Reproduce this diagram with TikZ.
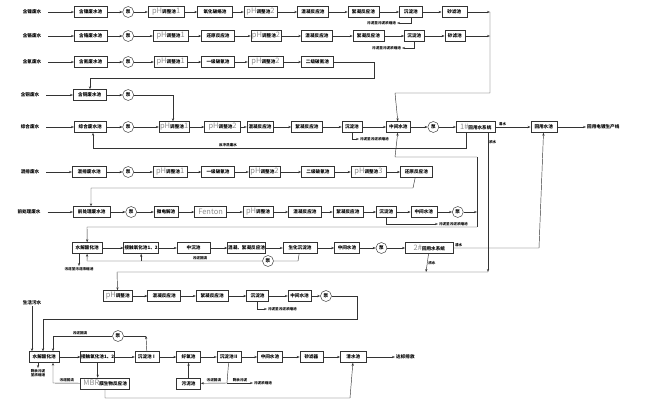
\documentclass[tikz,border=0pt]{standalone}
\usepackage{fontspec}
\setmainfont{Noto Sans CJK SC}
\usetikzlibrary{positioning,arrows.meta}

\newcommand\gr[1]{{\color{black!45}\fontsize{7.5}{7.5}\selectfont\mdseries #1}}

\tikzset{
  box/.style={draw=black!80, line width=.45pt, minimum height=11pt, inner sep=0pt, font=\fontsize{4.6}{5}\selectfont\bfseries},
  pump/.style={circle, draw=black!80, line width=.45pt, minimum size=11pt, inner sep=0pt, fill=white, font=\fontsize{4.6}{5}\selectfont\bfseries},
  flow/.style={draw=black!80, line width=.45pt, -{Stealth[length=3pt,width=2.2pt]}},
  pipe/.style={draw=black!80, line width=.45pt},
  src/.style={font=\fontsize{4.6}{5}\selectfont\bfseries, inner sep=1pt},
  note/.style={font=\fontsize{3.6}{4}\selectfont\bfseries, inner sep=.8pt, align=center},
}

\begin{document}
\begin{tikzpicture}[x=1pt, y=-1pt]
\useasboundingbox (0,0) rectangle (650,415);

% nickel
\node[src] (s1) at (32,12) {含镍废水};
\node[box, minimum width=33pt, anchor=west] (a1) at (74,12) {含镍废水池};
\node[pump, right=15pt of a1] (p1) {泵};
\node[box, minimum width=36pt, right=14pt of p1] (b1) {\gr{pH}调整池\gr{1}};
\node[box, minimum width=35pt, right=13pt of b1] (c1) {氧化破络池};
\node[box, minimum width=33pt, right=11pt of c1] (d1) {\gr{pH}调整池\gr{2}};
\node[box, minimum width=31pt, right=20pt of d1] (e1) {混凝反应池};
\node[box, minimum width=31pt, right=19pt of e1] (f1) {絮凝反应池};
\node[box, minimum width=23pt, right=20pt of f1] (g1) {沉淀池};
\node[box, minimum width=25pt, right=19pt of g1] (h1) {砂滤池};
\coordinate (k1) at (490,12);
\coordinate (m1) at (397,23);
\node[note, left=0pt of m1] (n1) {污泥至污泥浓缩池};

% chromium
\node[src] (s2) at (32,36) {含铬废水};
\node[box, minimum width=33pt, anchor=west] (a2) at (74,36) {含铬废水池};
\node[pump, right=15pt of a2] (p2) {泵};
\node[box, minimum width=35pt, right=19pt of p2] (b2) {\gr{pH}调整池\gr{1}};
\node[box, minimum width=33pt, right=13pt of b2] (c2) {还原反应池};
\node[box, minimum width=30pt, right=16pt of c2] (d2) {\gr{pH}调整池\gr{2}};
\node[box, minimum width=31pt, right=20pt of d2] (e2) {混凝反应池};
\node[box, minimum width=31pt, right=20pt of e2] (f2) {絮凝反应池};
\node[box, minimum width=20pt, right=20pt of f2] (g2) {沉淀池};
\node[box, minimum width=20pt, right=20pt of g2] (h2) {砂滤池};
\coordinate (m2) at (402,48);
\node[note, left=0pt of m2] (n2) {污泥至污泥浓缩池};

% cyanide
\node[src] (s3) at (32,62) {含氰废水};
\node[box, minimum width=33pt, anchor=west] (a3) at (74,62) {含氰废水池};
\node[pump, right=15pt of a3] (p3) {泵};
\node[box, minimum width=33pt, right=20pt of p3] (b3) {\gr{pH}调整池\gr{1}};
\node[box, minimum width=33pt, right=14pt of b3] (c3) {一级破氰池};
\node[box, minimum width=35pt, right=13pt of c3] (d3) {\gr{pH}调整池\gr{2}};
\node[box, minimum width=32pt, right=18pt of d3] (e3) {二级破氰池};
\coordinate (k4) at (374,62);
\coordinate (k5) at (374,78);
\coordinate (k6) at (90,78);

% copper
\node[src] (s4) at (30,95) {含铜废水};
\node[box, minimum width=33pt, anchor=west] (a4) at (73,95) {含铜废水池};
\node[pump, right=16pt of a4] (p4) {泵};
\coordinate (k7) at (173,95);

% general
\node[src] (s5) at (30,127) {综合废水};
\node[box, minimum width=32pt, anchor=west] (a5) at (74,127) {综合废水池};
\node[pump, right=16pt of a5] (p5) {泵};
\node[box, minimum width=30pt, right=25pt of p5] (b5) {\gr{pH}调整池\gr{1}};
\node[box, minimum width=36pt, right=15pt of b5] (c5) {\gr{pH}调整池\gr{2}};
\node[box, minimum width=26pt, right=6pt of c5] (d5) {混凝反应池};
\node[box, minimum width=31pt, right=18pt of d5] (e5) {絮凝反应池};
\node[box, minimum width=20pt, right=19pt of e5] (f5) {沉淀池};
\node[box, minimum width=24pt, right=24pt of f5] (g5) {中间水池};
\node[pump, right=17pt of g5] (pp5) {泵};
\node[box, minimum width=39pt, right=17pt of pp5] (h5) {\gr{1\#}回用水系统};
\node[box, minimum width=26pt, right=35pt of h5] (i5) {回用水池};
\node[src, anchor=west] (t5) at (586,127) {回用电镀生产线};
\coordinate (k2) at (490,93);
\coordinate (k3) at (395,93);
\coordinate (m5) at (359,139);
\node[note, right=0pt of m5] (n5) {污泥至污泥浓缩池};
\coordinate (k8) at (466,148);
\coordinate (k9) at (93,148);
\node[note, above] (n5b) at (228,148) {反冲洗废水};
\coordinate (r1) at (488,272);

% mixed
\node[src] (s6) at (30,172) {混排废水};
\node[box, minimum width=34pt, anchor=west] (a6) at (72,172) {混排废水池};
\node[pump, right=16pt of a6] (p6) {泵};
\node[box, minimum width=34pt, right=19pt of p6] (b6) {\gr{pH}调整池\gr{1}};
\node[box, minimum width=33pt, right=14pt of b6] (c6) {一级破氰池};
\node[box, minimum width=31pt, right=14pt of c6] (d6) {\gr{pH}调整池\gr{2}};
\node[box, minimum width=33pt, right=21pt of d6] (e6) {二级破氰池};
\node[box, minimum width=35pt, right=16pt of e6] (f6) {\gr{pH}调整池\gr{3}};
\node[box, minimum width=32pt, right=14pt of f6] (g6) {还原反应池};
\coordinate (k10) at (413,188);
\coordinate (k11) at (91,188);

% pretreatment
\node[src] (s7) at (29,212) {前处理废水};
\node[box, minimum width=37pt, anchor=west] (a7) at (73,212) {前处理废水池};
\node[pump, right=15pt of a7] (p7) {泵};
\node[box, minimum width=24pt, right=17pt of p7] (b7) {微电解池};
\node[box, minimum width=32pt, right=16pt of b7] (c7) {\gr{Fenton}};
\node[box, minimum width=30pt, right=16pt of c7] (d7) {\gr{pH}调整池};
\node[box, minimum width=33pt, right=15pt of d7] (e7) {混凝反应池};
\node[box, minimum width=30pt, right=11pt of e7] (f7) {絮凝反应池};
\node[box, minimum width=20pt, right=13pt of f7] (g7) {沉淀池};
\node[box, minimum width=26pt, right=14pt of g7] (h7) {中间水池};
\node[pump, right=15pt of h7] (pp7) {泵};
\coordinate (j1) at (477,157);
\coordinate (j2) at (477,227);
\coordinate (j3) at (395,157);
\coordinate (j4) at (87,227);
\coordinate (m7) at (438,224);
\node[note, right=0pt of m7] (n7) {污泥至污泥浓缩池};

% biological 1
\node[box, minimum width=30pt, anchor=west] (a8) at (72,248) {水解酸化池};
\node[box, minimum width=35pt, right=21pt of a8] (b8) {接触氧化池1、2};
\node[box, minimum width=33pt, right=18pt of b8] (c8) {中沉池};
\node[box, minimum width=38pt, right=17pt of c8] (d8) {混凝、絮凝反应池};
\node[box, minimum width=34pt, right=17pt of d8] (e8) {生化沉淀池};
\node[box, minimum width=25pt, right=17pt of e8] (f8) {中间水池};
\node[pump, right=16pt of f8] (pp8) {泵};
\node[box, minimum width=48pt, right=18pt of pp8] (g8) {\gr{2\#}回用水系统};
\node[pump] (pp8b) at (268,261) {泵};
\coordinate (q1) at (298,261);
\coordinate (q2) at (87,261);
\node[note, above] (n8) at (200,261) {污泥回流};
\coordinate (m8) at (79,266);
\node[note, below=0pt of m8] (n8b) {污泥至污泥浓缩池};
\coordinate (r2) at (426,272);
\coordinate (r3) at (117,272);
\coordinate (r4) at (539,248);

% concentrate
\node[box, minimum width=29pt, anchor=west] (a9) at (103,296) {\gr{pH}调整池};
\node[box, minimum width=33pt, right=15pt of a9] (b9) {混凝反应池};
\node[box, minimum width=32pt, right=15pt of b9] (c9) {絮凝反应池};
\node[box, minimum width=22pt, right=18pt of c9] (d9) {沉淀池};
\node[box, minimum width=23pt, right=19pt of d9] (e9) {中间水池};
\node[pump, right=9pt of e9] (pp9) {泵};
\coordinate (u1) at (357,296);
\coordinate (u2) at (357,319);
\coordinate (u3) at (43,319);
\coordinate (m9) at (267,309);
\node[note, right=0pt of m9] (n9) {污泥至污泥浓缩池};

% domestic
\node[src] (s10) at (32,303) {生活污水};
\node[box, minimum width=30pt, anchor=west] (a10) at (29,357) {水解酸化池};
\node[box, minimum width=34pt, right=21pt of a10] (b10) {接触氧化池1、2};
\node[box, minimum width=24pt, right=20pt of b10] (c10) {沉淀池Ⅰ};
\node[box, minimum width=24pt, right=17pt of c10] (d10) {好氧池};
\node[box, minimum width=24pt, right=16pt of d10] (e10) {沉淀池Ⅱ};
\node[box, minimum width=25pt, right=16pt of e10] (f10) {中间水池};
\node[box, minimum width=23pt, right=17pt of f10] (g10) {砂滤器};
\node[box, minimum width=26pt, right=17pt of g10] (h10) {清水池};
\node[src, anchor=west] (t10) at (395,357) {达标排放};
\node[box, minimum width=49pt, below=15pt of b10.south west, anchor=north west] (mbr) {\gr{MBR}膜生物反应池};
\node[box, minimum width=24pt, below=15pt of d10] (ms) {污泥池};
\node[pump] (pp10) at (118,336) {泵};
\coordinate (v1) at (146,336);
\coordinate (v2) at (53,336);
\coordinate (v3) at (53,383);
\coordinate (v4) at (105,398);
\coordinate (v5) at (350,398);
\coordinate (v6) at (227,383);
\coordinate (v7) at (253,383);
\node[note, right=0pt of v7] (n10d) {污泥浓缩池};
\node[note, above] (n10e) at (80,336) {污泥回流};
\coordinate (m10) at (38,368);
\node[note, below=0pt of m10] (n10f) {剩余污泥\\至浓缩池};

% connectors
\draw[flow, shorten <=6pt] (s1) -- (a1);
\draw[flow] (a1) -- (p1);
\draw[flow] (p1) -- (b1);
\draw[flow] (b1) -- (c1);
\draw[flow] (c1) -- (d1);
\draw[flow] (d1) -- (e1);
\draw[flow] (e1) -- (f1);
\draw[flow] (f1) -- (g1);
\draw[flow] (g1) -- (h1);
\draw[flow] (h1) -- (k1);
\draw[flow] (g1.south) |- (m1);

\draw[flow, shorten <=6pt] (s2) -- (a2);
\draw[flow] (a2) -- (p2);
\draw[flow] (p2) -- (b2);
\draw[flow] (b2) -- (c2);
\draw[flow] (c2) -- (d2);
\draw[flow] (d2) -- (e2);
\draw[flow] (e2) -- (f2);
\draw[flow] (f2) -- (g2);
\draw[flow] (g2) -- (h2);
\draw[flow] (h2) -- (h2 -| k1);
\draw[flow] (g2.south) |- (m2);
\draw[flow] (k1) -- (k2) -- (k3) -- (g5);

\draw[flow, shorten <=6pt] (s3) -- (a3);
\draw[flow] (a3) -- (p3);
\draw[flow] (p3) -- (b3);
\draw[flow] (b3) -- (c3);
\draw[flow] (c3) -- (d3);
\draw[flow] (d3) -- (e3);
\draw[flow] (e3) -- (k4) -- (k5) -- (k6) -- (k6 |- a4.north);

\draw[flow, shorten <=6pt] (s4) -- (a4);
\draw[flow] (a4) -- (p4);
\draw[flow] (p4) -- (k7) -- (k7 |- b5.north);

\draw[flow, shorten <=6pt] (s5) -- (a5);
\draw[flow] (a5) -- (p5);
\draw[flow] (p5) -- (b5);
\draw[flow] (b5) -- (c5);
\draw[flow] (c5) -- (d5);
\draw[flow] (d5) -- (e5);
\draw[flow] (e5) -- (f5);
\draw[flow] (f5) -- (g5);
\draw[flow] (g5) -- (pp5);
\draw[flow] (pp5) -- (h5);
\draw[flow] (h5) -- node[note, above, pos=.2] (w1) {清水} (i5);
\draw[flow] (i5) -- (t5);
\draw[flow] (f5.south) |- (m5);
\draw[flow] (h5.south -| k8) -- (k8) -- (k9) -- (k9 |- a5.south);
\draw[flow] (h5.south -| r1) -- node[note, right, pos=.07] (w2) {浓水} (r1);

\draw[flow, shorten <=6pt] (s6) -- (a6);
\draw[flow] (a6) -- (p6);
\draw[flow] (p6) -- (b6);
\draw[flow] (b6) -- (c6);
\draw[flow] (c6) -- (d6);
\draw[flow] (d6) -- (e6);
\draw[flow] (e6) -- (f6);
\draw[flow] (f6) -- (g6);
\draw[flow] (g6) -- (k10) -- (k11) -- (k11 |- a7.north);

\draw[flow, shorten <=6pt] (s7) -- (a7);
\draw[flow] (a7) -- (p7);
\draw[flow] (p7) -- (b7);
\draw[flow] (b7) -- (c7);
\draw[flow] (c7) -- (d7);
\draw[flow] (d7) -- (e7);
\draw[flow] (e7) -- (f7);
\draw[flow] (f7) -- (g7);
\draw[flow] (g7) -- (h7);
\draw[flow] (h7) -- (pp7);
\draw[flow] (pp7) -- (pp7 -| j1);
\draw[flow] (g7.south) |- (m7);
\draw[pipe] (j1) -- (j2);
\draw[flow] (j1) -- (j3) -- (g5);
\draw[flow] (j2) -- (j4) -- (a8);

\draw[flow] (a8) -- (b8);
\draw[flow] (b8) -- (c8);
\draw[flow] (c8) -- (d8);
\draw[flow] (d8) -- (e8);
\draw[flow] (e8) -- (f8);
\draw[flow] (f8) -- (pp8);
\draw[flow] (pp8) -- (g8);
\draw[flow] (g8) -- node[note, above, pos=.06] (w3) {清水} (r4) -- (i5);
\draw[flow] (g8) -- node[note, right] (w4) {浓水} (r2);
\draw[pipe] (e8) -- (q1) -- (pp8b);
\draw[flow] (pp8b) -- (q2) -- (a8);
\draw[flow] (b8.south |- q2) -- (b8);
\draw[flow] (a8.south -| m8) -- (m8);
\draw[flow] (r1) -- (r3) -- (a9);

\draw[flow] (a9) -- (b9);
\draw[flow] (b9) -- (c9);
\draw[flow] (c9) -- (d9);
\draw[flow] (d9) -- (e9);
\draw[flow] (e9) -- (pp9);
\draw[flow] (pp9) -- (u1) -- (u2) -- (u3) -- (u3 |- a10.north);
\draw[flow] (d9.south) |- (m9);

\draw[flow] (s10) -- (s10 |- a10.north);
\draw[flow] (a10) -- (b10);
\draw[flow] (b10) -- (c10);
\draw[flow] (c10) -- (d10);
\draw[flow] (d10) -- (e10);
\draw[flow] (e10) -- (f10);
\draw[flow] (f10) -- (g10);
\draw[flow] (g10) -- (h10);
\draw[flow] (h10) -- (t10);
\draw[flow] (b10) -- (b10 |- mbr.north);
\draw[flow] (mbr) -- node[note, above] (n10a) {污泥回流} (v3) -- (v3 |- a10.south);
\draw[flow] (mbr.south -| v4) -- (v4) -- (v5) -- (h10);
\draw[flow] (ms) -- (d10);
\draw[flow] (e10) -- (v6) -- node[note, above] (n10b) {污泥回流} (ms);
\draw[flow] (v6) -- node[note, above] (n10c) {剩余污泥} (v7);
\draw[flow] (c10) -- (v1);
\draw[pipe] (v1) -- (pp10);
\draw[flow] (pp10) -- (v2) -- (v2 |- a10.north);
\draw[flow] (a10.south -| m10) -- (m10);
\end{tikzpicture}
\end{document}
